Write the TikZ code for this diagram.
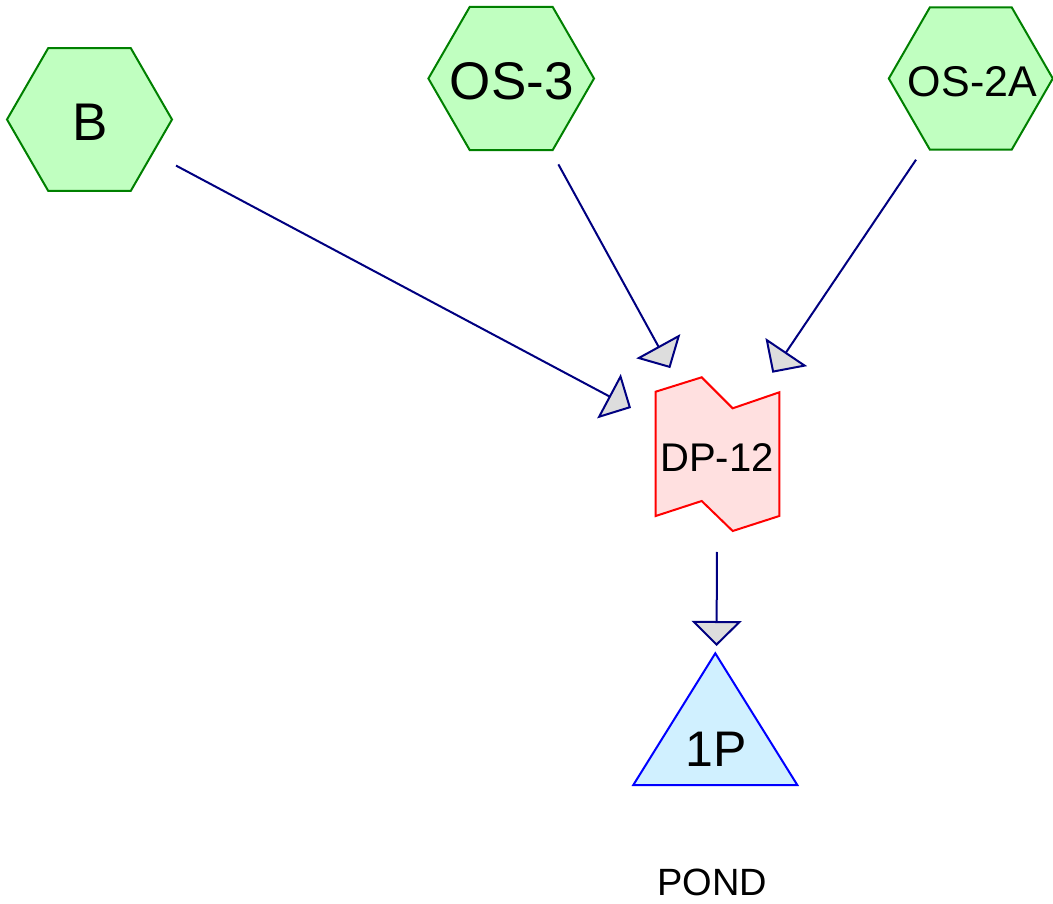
\documentclass[tikz,border=0pt]{standalone}
\usepackage{fontspec}
\setmainfont{Liberation Sans}
\usetikzlibrary{arrows.meta}
\definecolor{hexline}{RGB}{0,128,0}
\definecolor{hexfill}{RGB}{192,255,192}
\definecolor{dpline}{RGB}{255,0,0}
\definecolor{dpfill}{RGB}{255,224,224}
\definecolor{pondline}{RGB}{0,0,255}
\definecolor{pondfill}{RGB}{208,240,255}
\definecolor{flowline}{RGB}{0,0,128}
\definecolor{tipfill}{RGB}{221,221,221}
\tikzset{
  hexbox/.style={draw=hexline, fill=hexfill, line width=2pt, line join=miter},
  dpbox/.style={draw=dpline, fill=dpfill, line width=2pt, line join=miter},
  pondbox/.style={draw=pondline, fill=pondfill, line width=2pt, line join=miter},
  lbl/.style={inner sep=0pt, outer sep=0pt, text=black},
  flow/.style={draw=flowline, line width=2pt, line join=miter,
    shorten <=98pt, shorten >=98pt,
    -{Triangle[length=25pt, width=50pt, fill=tipfill, line join=miter]}},
}
\begin{document}
\begin{tikzpicture}[x=1pt, y=-1pt]
\useasboundingbox (0,0) rectangle (1053,904);
% centres
\coordinate (B) at (89.5,119.5);
\coordinate (OS3) at (511.2,78.5);
\coordinate (OS2A) at (970.8,78.5);
\coordinate (DP) at (717.5,454);
\coordinate (P1) at (716,744);
% hexagons
\foreach \c/\r in {B/82.5, OS3/82.8, OS2A/82}{
  \draw[hexbox] (\c) ++(0:\r pt) -- ++(120:\r pt) -- ++(180:\r pt) -- ++(240:\r pt) -- ++(300:\r pt) -- ++(0:\r pt) -- cycle;
}
% DP-12 shape
\draw[dpbox] (655.7,391.7) -- (701.7,377.3) -- (732.7,408.3) -- (779.3,392.3)
  -- (779.3,516) -- (732.7,531) -- (701.7,501) -- (655.7,516) -- cycle;
% pond triangle
\draw[pondbox] (715.3,653.3) -- (797.3,785) -- (633.3,785) -- cycle;
% labels
\node[lbl, font=\fontsize{53}{60}\selectfont] (tB) at (90,122.5) {B};
\node[lbl, font=\fontsize{53}{60}\selectfont] (tOS3) at (511.7,81.3) {OS-3};
\node[lbl, font=\fontsize{43}{50}\selectfont] (tOS2A) at (972.5,81.3) {OS-2A};
\node[lbl, font=\fontsize{40}{46}\selectfont] (tDP) at (717,457.2) {DP-12};
\node[lbl, font=\fontsize{50}{56}\selectfont] (tP1) at (716.3,748.8) {1P};
\node[lbl, font=\fontsize{38}{44}\selectfont] (tPOND) at (712.5,882.8) {POND};
% connectors
\draw[flow] (B) -- (DP);
\draw[flow] (OS3) -- (DP);
\draw[flow] (OS2A) -- (DP);
\draw[flow] (DP) -- (P1);
\end{tikzpicture}
\end{document}
